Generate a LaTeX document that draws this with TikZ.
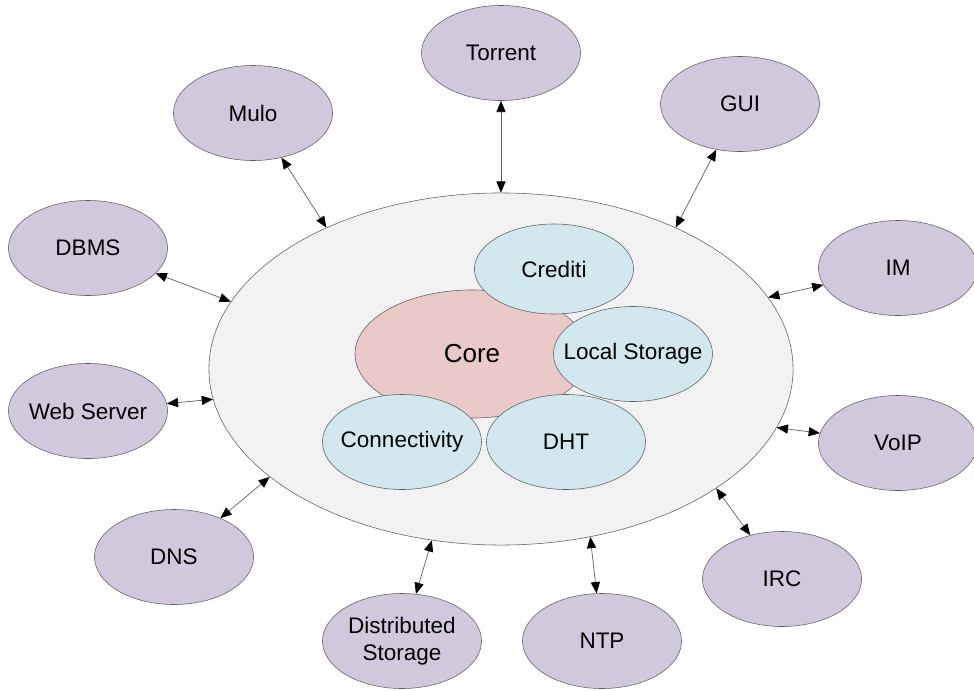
\documentclass[tikz,border=0pt]{standalone}
\usepackage{fontspec}
\setmainfont{Liberation Sans}
\usetikzlibrary{arrows.meta,shapes.geometric}
\definecolor{modpurple}{RGB}{210,200,222}
\definecolor{modblue}{RGB}{210,232,238}
\definecolor{corepink}{RGB}{234,201,201}
\definecolor{sysgray}{RGB}{242,242,242}
\definecolor{edgegray}{RGB}{95,95,95}

\begin{document}
\begin{tikzpicture}[x=0.025cm, y=-0.025cm,
    blob/.style={ellipse, draw=edgegray, line width=0.4pt, inner xsep=-0.35cm, inner ysep=0pt, align=center, font=\fontsize{16}{19}\selectfont},
    plugin/.style={blob, fill=modpurple, minimum width=3.975cm, minimum height=2.375cm},
    part/.style={blob, fill=modblue, minimum width=3.975cm, minimum height=2.375cm},
    link/.style={<->, draw=edgegray, line width=0.5pt},
    >={Triangle[length=8pt, width=6.5pt, color=black]}
]
\useasboundingbox (0,0) rectangle (974,691);

% system boundary
\node[blob, fill=sysgray, minimum width=14.6cm, minimum height=8.8cm] (sys) at (501,369) {};

% core and its parts
\node[blob, fill=corepink, minimum width=5.85cm, minimum height=3.2cm, font=\fontsize{18.5}{22}\selectfont] (core) at (472,354) {Core};
\node[part, minimum height=2.25cm] (crediti) at (554,269) {Crediti};
\node[part] (local) at (633,354) {Local Storage};
\node[part] (conn) at (402,442) {Connectivity};
\node[part] (dht) at (566,442) {DHT};

% plugins
\node[plugin] (torrent) at (501,53) {Torrent};
\node[plugin] (mulo) at (253,113) {Mulo};
\node[plugin] (gui) at (740,104) {GUI};
\node[plugin] (dbms) at (88,248) {DBMS};
\node[plugin] (im) at (898,268) {IM};
\node[plugin] (web) at (88,411) {Web Server};
\node[plugin] (voip) at (898,443) {VoIP};
\node[plugin] (dns) at (174,557) {DNS};
\node[plugin] (irc) at (782,579) {IRC};
\node[plugin] (dist) at (402,641) {Distributed\\Storage};
\node[plugin] (ntp) at (602,641) {NTP};

% links to the system
\draw[link] (torrent) -- (sys.90);
\draw[link] (mulo) -- (sys.141.5);
\draw[link] (gui) -- (sys.39.3);
\draw[link] (dbms) -- (sys.166.8);
\draw[link] (im) -- (sys.15.8);
\draw[link] (web) -- (sys.186.8);
\draw[link] (voip) -- (sys.-12);
\draw[link] (dns) -- (sys.205.6);
\draw[link] (irc) -- (sys.-29.4);
\draw[link] (dist) -- (sys.248.4);
\draw[link] (ntp) -- (sys.-62.8);
\end{tikzpicture}
\end{document}
